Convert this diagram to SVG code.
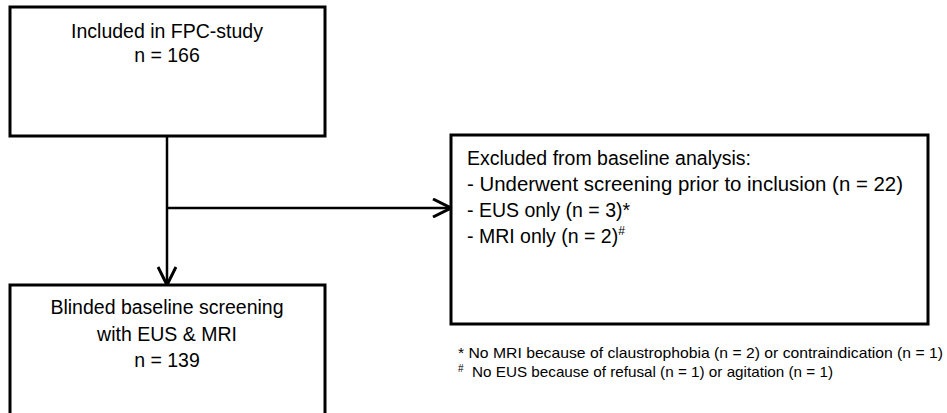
<svg xmlns="http://www.w3.org/2000/svg" width="947" height="413" viewBox="0 0 947 413">
<style>
.box{fill:#fff;stroke:#000;stroke-width:3}
.t{font-family:"Liberation Sans",Arial,sans-serif;font-size:19.5px;fill:#000}
.c{text-anchor:middle}
.f{font-family:"Liberation Sans",Arial,sans-serif;font-size:15px;fill:#000}
.ln{fill:none;stroke:#000;stroke-width:2.5}
</style>
<defs>
<marker id="ah" viewBox="0 0 20 20" refX="19" refY="10" markerWidth="20" markerHeight="20" markerUnits="userSpaceOnUse" orient="auto">
<path d="M1,1 L19,10 L1,19" fill="none" stroke="#000" stroke-width="3"/>
</marker>
</defs>
<rect width="947" height="413" fill="#fff"/>
<g id="connectors">
<line class="ln" x1="167" y1="136" x2="167" y2="285" marker-end="url(#ah)"/>
<line class="ln" x1="167" y1="208" x2="451" y2="208" marker-end="url(#ah)"/>
</g>
<g id="included">
<rect class="box" x="10" y="7" width="315" height="129"/>
<text class="t c" x="167" y="38">Included in FPC-study</text>
<text class="t c" x="167" y="62">n = 166</text>
</g>
<g id="excluded">
<rect class="box" x="451" y="135" width="477" height="189"/>
<text class="t" x="467" y="165">Excluded from baseline analysis:</text>
<text class="t" x="467" y="191" textLength="436" lengthAdjust="spacingAndGlyphs">- Underwent screening prior to inclusion (n = 22)</text>
<text class="t" x="467" y="217">- EUS only (n = 3)*</text>
<text class="t" x="467" y="243">- MRI only (n = 2)<tspan font-size="12" dy="-8">#</tspan></text>
</g>
<g id="blinded">
<rect class="box" x="10" y="285" width="315" height="140"/>
<text class="t c" x="167" y="314">Blinded baseline screening</text>
<text class="t c" x="167" y="341">with EUS &amp; MRI</text>
<text class="t c" x="167" y="367">n = 139</text>
</g>
<g id="footnotes">
<text class="f" x="458" y="358" textLength="485" lengthAdjust="spacingAndGlyphs">* No MRI because of claustrophobia (n = 2) or contraindication (n = 1)</text>
<text class="f" x="458" y="377"><tspan font-size="10" dy="-5">#</tspan><tspan x="472" dy="5" textLength="361" lengthAdjust="spacingAndGlyphs">No EUS because of refusal (n = 1) or agitation (n = 1)</tspan></text>
</g>
</svg>
